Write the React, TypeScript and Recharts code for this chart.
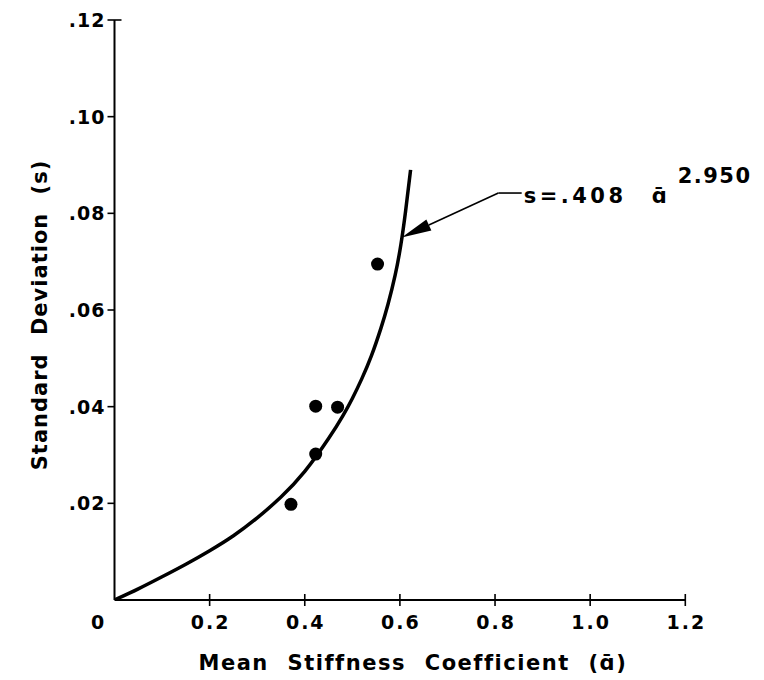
import React from "react";
import {
  ComposedChart,
  Line,
  Scatter,
  XAxis,
  YAxis,
  ReferenceLine,
} from "recharts";

// fitted curve, sampled along the mean stiffness coefficient
const curveA = [0, 0.05, 0.1, 0.15, 0.2, 0.25, 0.3, 0.35, 0.4, 0.45, 0.48, 0.5, 0.52, 0.54, 0.56, 0.575, 0.59, 0.602, 0.612, 0.6225];
const curveS = [0, 0.0023, 0.0048, 0.0074, 0.0102, 0.0133, 0.017, 0.0213, 0.0266, 0.0334, 0.0381, 0.0417, 0.0458, 0.0505, 0.0562, 0.0612, 0.0672, 0.0735, 0.0805, 0.089];

// observed points
const pointA = [0.371, 0.423, 0.423, 0.469, 0.553];
const pointS = [0.0198, 0.0302, 0.0401, 0.0399, 0.0695];

const xTicks = [0, 0.2, 0.4, 0.6, 0.8, 1.0, 1.2];
const yTicks = [0.02, 0.04, 0.06, 0.08, 0.1, 0.12];

// leader from the equation to the curve
const leaderA = [0.856, 0.807, 0.6036];
const leaderS = [0.0842, 0.0842, 0.075];

const curveData = curveA.map((a, i) => ({ a, s: curveS[i] }));
const pointData = pointA.map((a, i) => ({ a, s: pointS[i] }));

const FONT = "'DejaVu Sans', sans-serif";
const ABAR = "\u0251\u0304";

const XTick = (props: any) => {
  const { x, y, payload } = props;
  const v = payload.value as number;
  const label = v === 0 ? "0" : v.toFixed(1);
  return (
    <g>
      {v !== 0 && <line x1={x} x2={x} y1={y - 6} y2={y + 6} stroke="#000" strokeWidth={1.6} />}
      <text
        x={v === 0 ? x - 16 : x + 1}
        y={y + 29}
        textAnchor="middle"
        fontFamily={FONT}
        fontWeight="bold"
        fontSize={19}
        letterSpacing={2}
        fill="#000"
      >
        {label}
      </text>
    </g>
  );
};

const YTick = (props: any) => {
  const { x, y, payload } = props;
  const v = payload.value as number;
  const label = v.toFixed(2).replace(/^0/, "");
  return (
    <g>
      <line x1={x - 7} x2={v === 0.12 ? x + 7 : x} y1={y} y2={y} stroke="#000" strokeWidth={1.6} />
      <text
        x={x - 9}
        y={y + 7}
        textAnchor="end"
        fontFamily={FONT}
        fontWeight="bold"
        fontSize={19}
        letterSpacing={1}
        fill="#000"
      >
        {label}
      </text>
    </g>
  );
};

const Dot = (props: any) => <circle cx={props.cx} cy={props.cy} r={6.5} fill="#000" />;

const Arrow = (props: any) => {
  const { x1, y1, x2, y2 } = props;
  const dx = x2 - x1;
  const dy = y2 - y1;
  const len = Math.hypot(dx, dy);
  const ux = dx / len;
  const uy = dy / len;
  const head = 30;
  const half = 6;
  const bx = x2 - ux * head;
  const by = y2 - uy * head;
  return (
    <g>
      <line x1={x1} y1={y1} x2={bx} y2={by} stroke="#000" strokeWidth={1.6} />
      <polygon
        points={`${x2},${y2} ${bx - uy * half},${by + ux * half} ${bx + uy * half},${by - ux * half}`}
        fill="#000"
      />
    </g>
  );
};

const Equation = (props: any) => {
  const { x1, y1, x2, y2 } = props;
  const right = Math.max(x1, x2);
  const style = { fontFamily: FONT, fontWeight: "bold" as const, fill: "#000" };
  return (
    <g>
      <line x1={x1} y1={y1} x2={x2} y2={y2} stroke="#000" strokeWidth={1.6} />
      <text x={right + 2} y={y1 + 10} fontSize={21} letterSpacing={3.5} {...style}>
        s=.408
      </text>
      <text x={right + 130} y={y1 + 10} fontSize={21} {...style}>
        {ABAR}
      </text>
      <text x={right + 156} y={y1 - 10} fontSize={21} letterSpacing={1.5} {...style}>
        2.950
      </text>
    </g>
  );
};

export default function App() {
  return (
    <div style={{ position: "absolute", left: 0, top: 0, background: "#fff" }}>
      <ComposedChart
        width={764}
        height={680}
        margin={{ top: 20, right: 78.7, bottom: 79, left: 113.5 }}
      >
        <XAxis
          type="number"
          dataKey="a"
          domain={[0, 1.2]}
          ticks={xTicks}
          height={1}
          tickSize={0}
          tickMargin={0}
          tickLine={false}
          tick={<XTick />}
          interval={0}
          stroke="#000"
          strokeWidth={2}
          allowDataOverflow
          label={{
            content: (p: any) => (
              <text
                x={p.viewBox.x + p.viewBox.width / 2 + 13}
                y={p.viewBox.y + 70}
                textAnchor="middle"
                fontFamily={FONT}
                fontWeight="bold"
                fontSize={21}
                letterSpacing={1.5}
                wordSpacing={10}
                fill="#000"
              >
                {`Mean Stiffness Coefficient (${ABAR})`}
              </text>
            ),
          }}
        />
        <YAxis
          type="number"
          dataKey="s"
          domain={[0, 0.12]}
          ticks={yTicks}
          width={1}
          tickSize={0}
          tickMargin={0}
          tickLine={false}
          tick={<YTick />}
          interval={0}
          stroke="#000"
          strokeWidth={2}
          allowDataOverflow
          label={{
            content: () => (
              <text
                transform="translate(47, 315) rotate(-90)"
                textAnchor="middle"
                fontFamily={FONT}
                fontWeight="bold"
                fontSize={21}
                letterSpacing={1}
                wordSpacing={10}
                fill="#000"
              >
                Standard Deviation (s)
              </text>
            ),
          }}
        />
        <Line
          data={curveData}
          dataKey="s"
          type="natural"
          stroke="#000"
          strokeWidth={3.5}
          dot={false}
          activeDot={false}
          isAnimationActive={false}
        />
        <Scatter data={pointData} dataKey="s" shape={<Dot />} isAnimationActive={false} />
        <ReferenceLine
          segment={[
            { x: leaderA[1], y: leaderS[1] },
            { x: leaderA[2], y: leaderS[2] },
          ]}
          shape={(p: any) => <Arrow {...p} />}
        />
        <ReferenceLine
          segment={[
            { x: leaderA[1], y: leaderS[1] },
            { x: leaderA[0], y: leaderS[0] },
          ]}
          shape={(p: any) => <Equation {...p} />}
        />
      </ComposedChart>
    </div>
  );
}
